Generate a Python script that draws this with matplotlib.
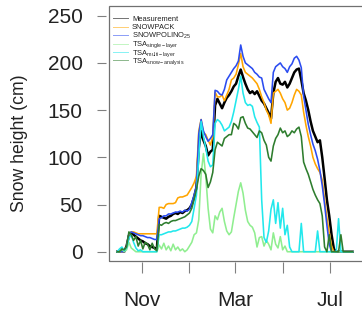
import datetime as dt

import matplotlib
matplotlib.use("Agg")
import matplotlib.pyplot as plt
import pandas as pd
from matplotlib.lines import Line2D
from matplotlib.patches import Rectangle

plt.rcParams["font.family"] = "Liberation Sans"
plt.rcParams["mathtext.fontset"] = "custom"
plt.rcParams["mathtext.rm"] = "Liberation Sans"
plt.rcParams["mathtext.it"] = "Liberation Sans:italic"

# Snow season, one value every 3 days
dates = pd.date_range("2017-09-30", periods=102, freq="3D")

measurement = [
    0, 0, 1, 0, 6, 17, 20, 18, 16, 14,
    12, 11, 9, 8, 6, 5, 4, 3, 38, 37,
    36, 35, 37, 38, 40, 41, 40, 42, 41, 43,
    44, 46, 50, 58, 68, 110, 128, 118, 112, 102,
    106, 108, 155, 162, 157, 152, 158, 163, 166, 170,
    175, 178, 186, 193, 185, 178, 172, 168, 170, 167,
    170, 165, 160, 157, 152, 147, 141, 168, 180, 184,
    178, 177, 180, 174, 178, 184, 190, 193, 194, 182,
    168, 160, 150, 138, 128, 122, 116, 118, 100, 78,
    55, 38, 18, 3, 0, 0, 0, 0, 0, 0,
    0, 0,
]

snowpack = [
    0, 0, 0, 0, 5, 18, 21, 21, 20, 19,
    19, 19, 19, 19, 19, 19, 19, 19, 47, 47,
    46, 50, 51, 51, 51, 52, 57, 58, 58, 59,
    60, 64, 68, 73, 80, 128, 140, 126, 124, 118,
    113, 122, 169, 164, 164, 166, 160, 166, 172, 182,
    184, 188, 198, 210, 196, 190, 188, 186, 184, 181,
    178, 172, 164, 158, 150, 145, 136, 168, 170, 172,
    168, 162, 158, 150, 152, 158, 166, 172, 170, 166,
    148, 134, 122, 112, 100, 93, 88, 84, 76, 55,
    36, 20, 6, 0, 0, 0, 0, 0, 0, 0,
    0, 0,
]

snowpolino = [
    0, 0, 0, 0, 5, 19, 21, 20, 19, 18,
    17, 17, 16, 15, 15, 14, 13, 13, 35, 36,
    38, 38, 40, 40, 41, 42, 42, 43, 42, 44,
    43, 45, 52, 60, 70, 125, 140, 128, 122, 117,
    120, 124, 171, 170, 167, 166, 172, 182, 186, 190,
    194, 197, 202, 219, 207, 200, 198, 196, 194, 190,
    188, 185, 184, 172, 167, 162, 158, 190, 196, 198,
    200, 196, 194, 190, 196, 199, 205, 207, 203, 195,
    165, 150, 135, 124, 114, 107, 98, 86, 70, 50,
    28, 8, 0, 0, 0, 0, 0, 0, 0, 0,
    0, 0,
]

tsa_single = [
    0, 0, 3, 0, 2, 10, 4, 2, 0, 0,
    0, 0, 0, 0, 0, 0, 0, 0, 7, 3,
    9, 2, 6, 1, 8, 2, 5, 1, 3, 0,
    2, 6, 10, 18, 20, 34, 82, 104, 80, 46,
    24, 20, 38, 34, 42, 46, 32, 22, 18, 21,
    36, 50, 64, 73, 62, 44, 32, 28, 26, 20,
    5, 15, 16, 6, 12, 8, 2, 20, 8, 4,
    16, 2, 6, 0, 0, 0, 0, 0, 0, 0,
    0, 0, 0, 0, 0, 0, 0, 0, 0, 0,
    0, 0, 0, 0, 0, 0, 0, 0, 0, 0,
    0, 0,
]

tsa_multi = [
    0, 3, 5, 1, 4, 14, 18, 10, 4, 1,
    2, 0, 0, 0, 0, 0, 0, 0, 18, 18,
    19, 20, 21, 21, 22, 22, 23, 24, 25, 25,
    26, 28, 32, 46, 60, 100, 138, 122, 110, 96,
    90, 92, 136, 140, 138, 134, 128, 130, 132, 138,
    148, 160, 172, 186, 168, 158, 155, 156, 154, 143,
    137, 132, 55, 15, 10, 22, 45, 55, 30, 52,
    25, 46, 18, 28, 5, 0, 0, 0, 0, 30,
    0, 0, 0, 0, 0, 0, 22, 0, 0, 0,
    0, 0, 0, 0, 0, 35, 0, 0, 0, 0,
    0, 0,
]

tsa_analysis = [
    0, 0, 3, 2, 5, 21, 18, 12, 16, 6,
    12, 3, 10, 8, 2, 9, 3, 1, 29, 28,
    30, 31, 30, 32, 33, 33, 34, 35, 36, 37,
    39, 41, 46, 56, 66, 80, 88, 86, 82, 68,
    74, 84, 108, 116, 114, 112, 120, 122, 124, 124,
    136, 134, 130, 142, 143, 136, 131, 130, 127, 124,
    121, 128, 126, 118, 113, 100, 96, 112, 120, 124,
    131, 126, 128, 122, 124, 128, 126, 130, 132, 122,
    95, 88, 82, 74, 66, 60, 55, 51, 38, 5,
    0, 18, 0, 0, 0, 0, 18, 0, 0, 0,
    0, 0,
]

series = [
    ("Measurement", measurement, "black", 1.8),
    ("SNOWPACK", snowpack, "#ffa500", 1.15),
    (r"SNOWPOLINO$_{25}$", snowpolino, "#2b4cf0", 1.15),
    (r"TSA$_{\mathrm{single-layer}}$", tsa_single, "#90ee90", 1.15),
    (r"TSA$_{\mathrm{multi-layer}}$", tsa_multi, "#22e8ec", 1.15),
    (r"TSA$_{\mathrm{snow-analysis}}$", tsa_analysis, "#2e7d2e", 1.15),
]

W, H = 362, 310
fig = plt.figure(figsize=(W / 100, H / 100), dpi=100)
ax = fig.add_axes([108.7 / W, 49.3 / H, (369 - 108.7) / W, 254.7 / H])

for label, values, color, lw in series:
    ax.plot(dates, values, color=color, linewidth=lw)

start = dt.datetime(2017, 10, 1)
ax.set_xlim(start + dt.timedelta(days=-12.0), start + dt.timedelta(days=323.2))
ax.set_ylim(-9.5, 260.3)

ax.set_xticks([dt.datetime(2017, 11, 1), dt.datetime(2018, 1, 1),
               dt.datetime(2018, 3, 1), dt.datetime(2018, 5, 1),
               dt.datetime(2018, 7, 1)])
ax.set_xticklabels(["Nov", "", "Mar", "", "Jul"])
ax.set_yticks([0, 50, 100, 150, 200, 250])

# R-style: box around the plot, ticks detached from it
for s in ax.spines.values():
    s.set_visible(False)
ax.spines["left"].set_position(("outward", 2))
ax.spines["bottom"].set_position(("outward", 1))
ax.add_patch(Rectangle((0, 0), 1, 1, transform=ax.transAxes, fill=False,
                       edgecolor="#707070", linewidth=0.9, clip_on=False,
                       zorder=5))

ax.tick_params(axis="y", length=6.7, width=0.8, color="#808080", pad=10,
               labelsize=15, labelcolor="#222222")
ax.tick_params(axis="x", length=8, width=0.8, color="#808080", pad=13,
               labelsize=15, labelcolor="#222222")

fig.text(20 / W, 1 - 143 / H, "Snow height (cm)", rotation=90,
         ha="center", va="center", fontsize=12.7, color="#222222")

# Legend (no frame), top-left inside the box
for k, (label, values, color, lw) in enumerate(series):
    y = 1 - (18.3 + 8.4 * k) / H
    fig.add_artist(Line2D([113 / W, 128 / W], [y, y], color=color,
                          linewidth=0.7, alpha=0.55))
    fig.text(132 / W, y - 2.4 / H, label, fontsize=5.4, va="baseline",
             color="#222222")

fig.savefig("out.png", dpi=100)
